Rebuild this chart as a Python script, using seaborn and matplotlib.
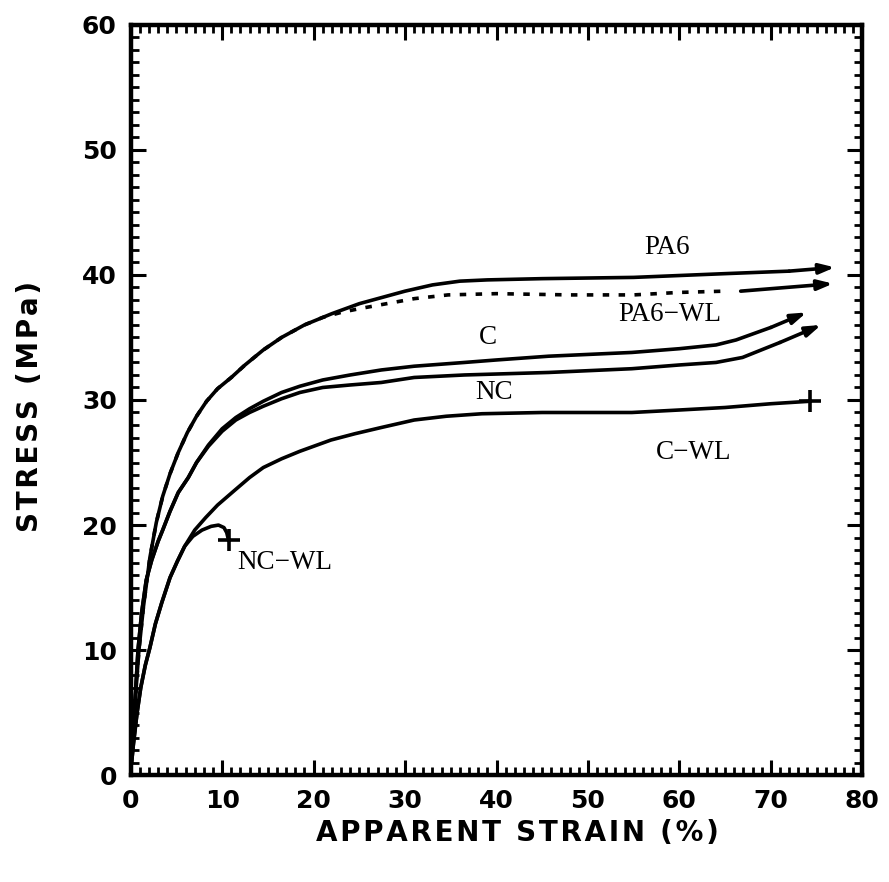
import numpy as np
import pandas as pd
import matplotlib
matplotlib.use("Agg")
import matplotlib.pyplot as plt
from matplotlib.ticker import MultipleLocator
import seaborn as sns

# Stress-strain curves (strain in %, stress in MPa)
pa6_x = [0.1, 0.4, 0.9, 1.4, 2.1, 2.8, 3.5, 4.3, 5.2, 6.2, 7.2, 8.3, 9.5, 11.0, 12.5,
         14.5, 16.5, 19.0, 22.0, 25.0, 27.5, 30.0, 33.0, 36.0, 39.0, 45.0, 55.0, 65.0,
         72.0, 77.0]
pa6_y = [1.5, 5.0, 10.0, 13.5, 17.4, 20.2, 22.3, 24.1, 25.8, 27.4, 28.7, 29.9, 30.9, 31.8, 32.8,
         34.0, 35.0, 36.0, 36.9, 37.7, 38.2, 38.7, 39.2, 39.5, 39.6, 39.7, 39.8, 40.1,
         40.3, 40.6]

pa6wl_x = [0.1, 0.4, 0.9, 1.4, 2.1, 2.8, 3.5, 4.3, 5.2, 6.2, 7.2, 8.3, 9.5, 11.0, 12.5,
           14.5, 16.5, 19.0, 21.0, 23.0, 25.0, 28.0, 31.0, 34.7, 40.0, 48.0, 55.0, 60.0, 65.0]
pa6wl_y = [1.5, 5.0, 10.0, 13.5, 17.4, 20.2, 22.3, 24.1, 25.8, 27.4, 28.7, 29.9, 30.9, 31.8, 32.8,
           34.0, 35.0, 36.0, 36.6, 37.0, 37.3, 37.7, 38.1, 38.4, 38.5, 38.4, 38.4, 38.6, 38.7]
pa6wl_tail_x = [66.7, 76.8]
pa6wl_tail_y = [38.7, 39.3]

c_x = [0.1, 0.4, 0.8, 1.2, 1.7, 2.3, 3.0, 3.5, 4.3, 5.2, 6.3, 7.2, 8.5, 10.0, 11.5, 13.0,
       14.5, 16.5, 18.5, 21.0, 24.0, 27.4, 31.0, 36.5, 40.0, 45.7, 54.8, 60.0, 64.0, 66.2,
       70.0, 73.9]
c_y = [1.5, 5.0, 10.0, 13.0, 15.6, 17.2, 18.7, 19.6, 21.1, 22.6, 23.8, 25.0, 26.4, 27.7, 28.6, 29.3,
       29.9, 30.6, 31.1, 31.6, 32.0, 32.4, 32.7, 33.0, 33.2, 33.5, 33.8, 34.1, 34.4, 34.8,
       35.8, 37.0]

nc_x = [0.1, 0.4, 0.8, 1.2, 1.7, 2.3, 3.0, 3.5, 4.3, 5.2, 6.3, 7.2, 8.5, 10.0, 11.5, 13.0,
        14.5, 16.5, 18.5, 21.0, 24.0, 27.4, 31.0, 36.5, 45.7, 54.8, 60.0, 64.0, 66.9,
        71.0, 75.5]
nc_y = [1.5, 5.0, 10.0, 13.0, 15.6, 17.2, 18.7, 19.6, 21.1, 22.6, 23.8, 25.0, 26.3, 27.5, 28.4, 29.0,
        29.5, 30.1, 30.6, 31.0, 31.2, 31.4, 31.8, 32.0, 32.2, 32.5, 32.8, 33.0, 33.4,
        34.6, 36.0]

cwl_x = [0.1, 0.3, 0.7, 1.1, 1.6, 2.1, 2.7, 3.4, 4.3, 5.1, 5.9, 7.0, 8.2, 9.5, 11.4, 13.0,
         14.5, 16.5, 18.5, 21.9, 24.5, 27.4, 31.0, 34.5, 38.4, 45.0, 54.8, 60.0, 65.0, 70.0,
         74.3]
cwl_y = [1.0, 2.5, 5.0, 7.0, 8.8, 10.2, 12.1, 13.8, 15.8, 17.1, 18.3, 19.6, 20.6, 21.6, 22.8, 23.8,
         24.6, 25.3, 25.9, 26.8, 27.3, 27.8, 28.4, 28.7, 28.9, 29.0, 29.0, 29.2, 29.4, 29.7,
         29.9]

ncwl_x = [0.1, 0.3, 0.7, 1.1, 1.6, 2.1, 2.7, 3.4, 4.3, 5.1, 5.9, 6.8, 7.8, 8.8, 9.6, 10.2,
          10.5, 10.7]
ncwl_y = [1.0, 2.5, 5.0, 7.0, 8.8, 10.2, 12.1, 13.8, 15.8, 17.1, 18.3, 19.1, 19.6, 19.9, 20.0, 19.8,
          19.4, 18.8]

labels = ["PA6", "PA6\u2212WL", "C", "NC", "C\u2212WL", "NC\u2212WL"]
label_x = [58.7, 58.9, 39.1, 39.7, 61.6, 16.8]
label_y = [42.2, 36.8, 35.0, 30.6, 25.8, 17.0]

sns.set_style("ticks")
plt.rcParams["font.family"] = ["DejaVu Sans"]
plt.rcParams["text.color"] = "black"
plt.rcParams["axes.labelcolor"] = "black"
plt.rcParams["xtick.color"] = "black"
plt.rcParams["ytick.color"] = "black"

fig = plt.figure(figsize=(8.89, 8.82), dpi=100)
ax = fig.add_axes([0.147, 0.121, 0.823, 0.851])

lw = 2.6


def draw(xs, ys, **kw):
    df = pd.DataFrame({"strain": xs, "stress": ys})
    sns.lineplot(data=df, x="strain", y="stress", sort=False, ax=ax,
                 color="black", lw=lw, estimator=None, **kw)
    return ax.lines[-1]


arrow_style = dict(arrowstyle="-|>,head_length=0.9,head_width=0.3", lw=lw,
                   color="black", shrinkA=0, shrinkB=0)

# curves that end with an arrow: line up to the last-but-one point, arrow to the end
for xs, ys in [(pa6_x, pa6_y), (pa6wl_tail_x, pa6wl_tail_y), (c_x, c_y), (nc_x, nc_y)]:
    if len(xs) > 2:
        draw(xs[:-1], ys[:-1])
    ax.annotate("", xy=(xs[-1], ys[-1]), xytext=(xs[-2], ys[-2]), arrowprops=arrow_style)

draw(cwl_x, cwl_y)
draw(ncwl_x, ncwl_y)
dotted = draw(pa6wl_x, pa6wl_y)
dotted.set_dashes([1.8, 2.6])

# break points
ax.plot([cwl_x[-1], ncwl_x[-1]], [cwl_y[-1], ncwl_y[-1]], ls="none", marker="+",
        ms=16, mew=2.6, color="black")

for t, lx, ly in zip(labels, label_x, label_y):
    ax.text(lx, ly, t, ha="center", va="center", fontsize=19.5,
            family=["Liberation Serif"])

ax.set_xlim(0, 80)
ax.set_ylim(0, 60)
ax.xaxis.set_major_locator(MultipleLocator(10))
ax.xaxis.set_minor_locator(MultipleLocator(1))
ax.yaxis.set_major_locator(MultipleLocator(10))
ax.yaxis.set_minor_locator(MultipleLocator(1))
ax.tick_params(which="both", direction="in", top=True, right=True, color="black")
ax.tick_params(which="major", length=11, width=2.2, labelsize=18, pad=10,
               labelcolor="black")
ax.tick_params(which="minor", length=6, width=2.0)
for lab in ax.get_xticklabels() + ax.get_yticklabels():
    lab.set_fontweight("bold")
for s in ax.spines.values():
    s.set_linewidth(3.2)
    s.set_color("black")
    s.set_visible(True)

hs = "\u200a"
ax.set_xlabel(hs.join("APPARENT STRAIN (%)"), fontsize=20, fontweight="bold",
              color="black", va="center")
ax.set_ylabel(hs.join("STRESS (MPa)"), fontsize=20, fontweight="bold",
              color="black", va="center")
ax.xaxis.set_label_coords(0.528, -0.077)
ax.yaxis.set_label_coords(-0.138, 0.492)

fig.savefig("out.png", dpi=100, facecolor="white")
